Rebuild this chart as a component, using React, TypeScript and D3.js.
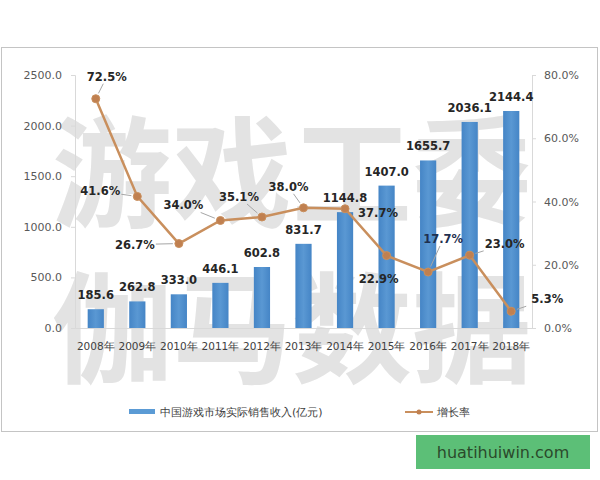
import React, { useEffect, useRef } from "react";
import * as d3 from "d3";

const categories = ["2008年", "2009年", "2010年", "2011年", "2012年", "2013年", "2014年", "2015年", "2016年", "2017年", "2018年"];
const revenue = [185.6, 262.8, 333.0, 446.1, 602.8, 831.7, 1144.8, 1407.0, 1655.7, 2036.1, 2144.4];
const growth = [72.5, 41.6, 26.7, 34.0, 35.1, 38.0, 37.7, 22.9, 17.7, 23.0, 5.3];
const leftTicks = [0, 500, 1000, 1500, 2000, 2500];
const rightTicks = [0, 20, 40, 60, 80];
const seriesNames = ["中国游戏市场实际销售收入(亿元)", "增长率"];

// label placement (layout only): offset of growth label centre from its marker, and whether to draw a leader
const growthLabelOffsets: [number, number, boolean][] = [
  [11, -22, true], [-37, -5, true], [-44, 1, true], [-37, -15, true], [-23, -20, true],
  [-15, -21, true], [33, 4, false], [-8, 23, false], [15, -33, true], [35, -11, true], [36, -12, true],
];

const W = 600, H = 480;
const plot = { left: 75, right: 532, top: 75, bottom: 328 };

export default function App() {
  const leftRef = useRef<SVGGElement>(null);
  const rightRef = useRef<SVGGElement>(null);
  const bottomRef = useRef<SVGGElement>(null);

  const x = d3.scaleBand<string>().domain(categories).range([plot.left, plot.right]).padding(0);
  const yL = d3.scaleLinear().domain([0, 2500]).range([plot.bottom, plot.top]);
  const yR = d3.scaleLinear().domain([0, 80]).range([plot.bottom, plot.top]);
  const bw = x.bandwidth() * 0.39;
  const cx = (c: string) => (x(c) as number) + x.bandwidth() / 2;

  const line = d3.line<number>().x((_, i) => cx(categories[i])).y((d) => yR(d));

  useEffect(() => {
    const style = (g: d3.Selection<SVGGElement, unknown, null, undefined>) => {
      g.selectAll("path.domain").attr("stroke", "#d9d9d9").attr("stroke-width", 1);
      g.selectAll(".tick line").attr("stroke", "#d9d9d9");
      g.selectAll(".tick text").attr("fill", "#595959").attr("font-size", 11).attr("font-family", "DejaVu Sans, sans-serif");
    };
    if (leftRef.current) {
      const g = d3.select(leftRef.current);
      g.call(d3.axisLeft(yL).tickValues(leftTicks).tickFormat(d3.format(".1f")).tickSize(4).tickPadding(9) as any);
      style(g);
    }
    if (rightRef.current) {
      const g = d3.select(rightRef.current);
      g.call(d3.axisRight(yR).tickValues(rightTicks).tickFormat((d: any) => d3.format(".1f")(d) + "%").tickSize(4).tickPadding(8) as any);
      style(g);
    }
    if (bottomRef.current) {
      const g = d3.select(bottomRef.current);
      g.call(d3.axisBottom(x).tickSize(0).tickPadding(15) as any);
      style(g);
      g.selectAll(".tick text").attr("font-size", 10.5).attr("fill", "#404040");
    }
  }, []);

  const lineColor = "#c98f5d";

  return (
    <svg width={W} height={H} style={{ position: "absolute", left: 0, top: 0, background: "#fff" }} fontFamily="DejaVu Sans, sans-serif">
      <defs>
        <linearGradient id="barGrad" x1="0" x2="1" y1="0" y2="0">
          <stop offset="0" stopColor="#4585c6" />
          <stop offset="0.5" stopColor="#5a98d3" />
          <stop offset="1" stopColor="#4585c6" />
        </linearGradient>
      </defs>
      <rect x={0} y={0} width={W} height={H} fill="#fff" />
      <rect x={1.5} y={47.5} width={596} height={384} fill="#fff" stroke="#c4c4c4" strokeWidth={1} />

      {/* watermark */}
      <g fill="#e3e3e3" fontFamily="Noto Sans CJK SC" fontWeight={700} fontSize={120} dominantBaseline="central">
        <text x={292} y={166} textAnchor="middle">游戏工委</text>
        <text x={292} y={322} textAnchor="middle">伽马数据</text>
      </g>

      <g ref={leftRef} transform={`translate(${plot.left},0)`} />
      <g ref={rightRef} transform={`translate(${plot.right},0)`} />
      <g ref={bottomRef} transform={`translate(0,${plot.bottom})`} />

      {/* bars */}
      {revenue.map((v, i) => (
        <rect key={i} x={cx(categories[i]) - bw / 2} y={yL(v)} width={bw} height={plot.bottom - yL(v)} fill="url(#barGrad)" />
      ))}
      {revenue.map((v, i) => (
        <text key={i} x={cx(categories[i])} y={yL(v) - 14} textAnchor="middle" dominantBaseline="central" fontSize={11.5} fontWeight={700} fill="#262626">
          {d3.format(".1f")(v)}
        </text>
      ))}

      {/* growth line */}
      <path d={line(growth) || ""} fill="none" stroke={lineColor} strokeWidth={2.5} />
      {growth.map((v, i) => (
        <circle key={i} cx={cx(categories[i])} cy={yR(v)} r={4} fill="#c08050" stroke={lineColor} strokeWidth={1} />
      ))}
      {growth.map((v, i) => {
        const [dx, dy, leader] = growthLabelOffsets[i];
        const mx = cx(categories[i]);
        const my = yR(v);
        const lx = mx + dx;
        const ly = my + dy;
        let seg = null;
        if (leader) {
          const hw = 21, hh = 7;
          const vx = mx - lx, vy = my - ly;
          const t = Math.min(Math.abs(vx) > 0 ? hw / Math.abs(vx) : 1e9, Math.abs(vy) > 0 ? hh / Math.abs(vy) : 1e9);
          const sx = lx + vx * t, sy = ly + vy * t;
          const len = Math.hypot(mx - sx, my - sy);
          if (len > 8) {
            const ex = mx - ((mx - sx) / len) * 6, ey = my - ((my - sy) / len) * 6;
            seg = <line x1={sx} y1={sy} x2={ex} y2={ey} stroke="#a6a6a6" strokeWidth={1} />;
          }
        }
        return (
          <g key={i}>
            {seg}
            <text x={lx} y={ly} textAnchor="middle" dominantBaseline="central" fontSize={11.5} fontWeight={700} fill={i === 8 ? "#1f3050" : "#262626"}>
              {d3.format(".1f")(v)}%
            </text>
          </g>
        );
      })}

      {/* legend */}
      <rect x={129} y={409} width={26} height={5} fill="#5b9bd5" />
      <text x={160} y={412} dominantBaseline="central" fontSize={11} fill="#404040">{seriesNames[0]}</text>
      <line x1={405} x2={433} y1={412} y2={412} stroke={lineColor} strokeWidth={2} />
      <circle cx={419} cy={412} r={2.5} fill="#c08050" />
      <text x={437} y={412} dominantBaseline="central" fontSize={11} fill="#404040">{seriesNames[1]}</text>

      {/* badge */}
      <rect x={416} y={435} width={174} height={34} fill="#5cbf77" />
      <text x={503} y={452} textAnchor="middle" dominantBaseline="central" fontSize={16} fill="#2b4a2b" fontFamily="DejaVu Sans, sans-serif">huatihuiwin.com</text>
    </svg>
  );
}
